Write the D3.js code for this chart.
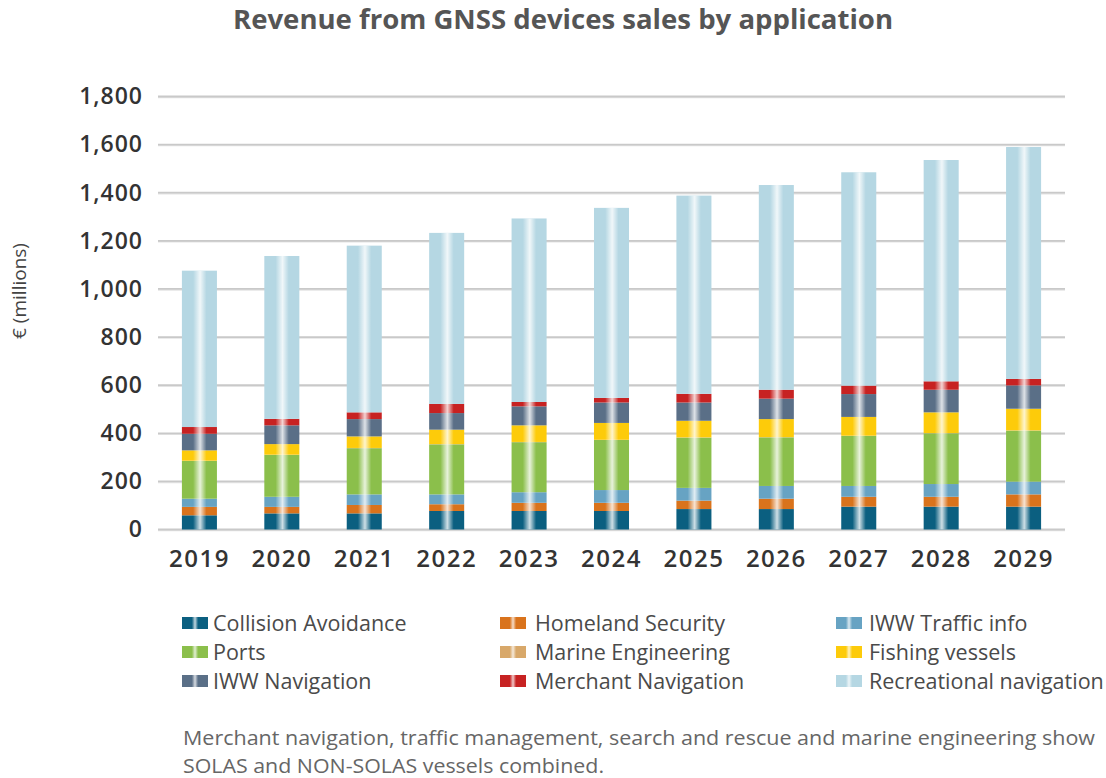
<!DOCTYPE html>
<html>
<head>
<meta charset="utf-8">
<script src="https://cdn.jsdelivr.net/npm/d3@7/dist/d3.min.js"></script>
<style>
  html, body { margin: 0; padding: 0; background: #fff; }
  svg { display: block; font-family: "Open Sans", "Noto Sans", sans-serif; }
</style>
</head>
<body>
<svg id="chart" width="1106" height="778"></svg>
<script>
// ── data (€ millions) ──
const years = ["2019", "2020", "2021", "2022", "2023", "2024", "2025", "2026", "2027", "2028", "2029"];

const collisionAvoidance = [59, 67, 67, 77, 77, 77, 85, 85, 95, 95, 95];
const homelandSecurity   = [35, 27, 35, 28, 34, 34, 35, 43, 41, 41, 51];
const iwwTrafficInfo     = [34, 42, 44, 41, 44, 53, 53, 53, 45, 53, 53];
const ports              = [157, 174, 192, 208, 208, 208, 209, 202, 208, 211, 212];
const marineEngineering  = [1, 1, 1, 1, 1, 1, 1, 1, 1, 1, 1];
const fishingVessels     = [43, 44, 48, 60, 69, 70, 69, 75, 78, 86, 90];
const iwwNavigation      = [69, 78, 72, 69, 79, 85, 76, 85, 95, 94, 97];
const merchantNavigation = [28, 27, 28, 38, 18, 19, 36, 37, 35, 35, 27];
const recreationalNav    = [650, 677, 693, 711, 763, 790, 824, 851, 887, 920, 964];

const seriesNames = ["Collision Avoidance", "Homeland Security", "IWW Traffic info",
                     "Ports", "Marine Engineering", "Fishing vessels",
                     "IWW Navigation", "Merchant Navigation", "Recreational navigation"];
const seriesValues = [collisionAvoidance, homelandSecurity, iwwTrafficInfo,
                      ports, marineEngineering, fishingVessels,
                      iwwNavigation, merchantNavigation, recreationalNav];
const seriesColors = ["#0b5f80", "#d9731c", "#67a3c3", "#8bbf4b", "#d8a86a",
                      "#fdcb0a", "#5a6f87", "#c72222", "#b5d7e3"];

const yTicks = [0, 200, 400, 600, 800, 1000, 1200, 1400, 1600, 1800];

// ── layout ──
const svg = d3.select("#chart");
const X0 = 158, X1 = 1065;
const Y0 = 529.5, Y1 = 96.5;

const x = d3.scaleBand().domain(years).range([X0, X1]).paddingInner(0.575).paddingOuter(0.29);
const y = d3.scaleLinear().domain([0, 1800]).range([Y0, Y1]);

// sheen gradient used on bars + legend swatches
const defs = svg.append("defs");
const sheen = defs.append("linearGradient").attr("id", "sheen")
    .attr("x1", "0%").attr("x2", "100%").attr("y1", "0%").attr("y2", "0%");
[[0, 0], [0.32, 0], [0.52, 0.8], [0.7, 0], [1, 0]].forEach(([o, a]) => {
    sheen.append("stop").attr("offset", o).attr("stop-color", "#fff").attr("stop-opacity", a);
});
const sw = defs.append("linearGradient").attr("id", "swsheen")
    .attr("x1", "0%").attr("x2", "100%").attr("y1", "0%").attr("y2", "0%");
[[0, 0], [0.38, 0], [0.5, 0.75], [0.62, 0], [1, 0]].forEach(([o, a]) => {
    sw.append("stop").attr("offset", o).attr("stop-color", "#fff").attr("stop-opacity", a);
});

// Title (condensed bold look)
svg.append("text").attr("x", 563).attr("y", 29)
    .attr("text-anchor", "middle").attr("fill", "#555")
    .attr("font-size", "26px").attr("font-weight", 700)
    .attr("textLength", 660).attr("lengthAdjust", "spacingAndGlyphs")
    .text("Revenue from GNSS devices sales by application");

// Gridlines
const grid = svg.append("g");
yTicks.forEach(t => {
    grid.append("line").attr("x1", X0).attr("x2", X1)
        .attr("y1", y(t) + 1).attr("y2", y(t) + 1)
        .attr("stroke", "#e4e4e4").attr("stroke-width", 1.5);
    grid.append("line").attr("x1", X0).attr("x2", X1)
        .attr("y1", y(t)).attr("y2", y(t))
        .attr("stroke", "#c9c9c9").attr("stroke-width", 1.8);
});

// Y axis labels
const yAx = svg.append("g").attr("transform", `translate(${X0},0)`)
    .call(d3.axisLeft(y).tickValues(yTicks).tickFormat(d3.format(",")).tickSize(0).tickPadding(15));
yAx.select(".domain").remove();
yAx.selectAll("text").attr("fill", "#333").attr("font-size", "23px").attr("font-weight", 600)
    .attr("letter-spacing", "1px")
    .attr("font-family", "'Open Sans', sans-serif");

svg.append("text")
    .attr("transform", `translate(26, 291) rotate(-90)`)
    .attr("text-anchor", "middle").attr("fill", "#444").attr("font-size", "19px")
    .text("€ (millions)");

// Stacked bars
const table = years.map((yr, i) => {
    const row = { year: yr };
    seriesNames.forEach((s, si) => row[s] = seriesValues[si][i]);
    return row;
});
const stack = d3.stack().keys(seriesNames)(table);

const bars = svg.append("g");
stack.forEach((layer, li) => {
    bars.append("g").attr("fill", seriesColors[li])
        .selectAll("rect").data(layer).join("rect")
        .attr("x", d => x(d.data.year))
        .attr("y", d => y(d[1]))
        .attr("width", x.bandwidth())
        .attr("height", d => Math.max(0, y(d[0]) - y(d[1])));
});
// sheen overlay
bars.append("g").selectAll("rect").data(years).join("rect")
    .attr("x", d => x(d))
    .attr("y", (d, i) => y(stack[stack.length - 1][i][1]))
    .attr("width", x.bandwidth())
    .attr("height", (d, i) => Y0 - y(stack[stack.length - 1][i][1]))
    .attr("fill", "url(#sheen)");

// X labels
const xAx = svg.append("g").attr("transform", `translate(0,${Y0})`)
    .call(d3.axisBottom(x).tickSize(0).tickPadding(20));
xAx.select(".domain").remove();
xAx.selectAll("text").attr("fill", "#333").attr("font-size", "24px").attr("font-weight", 600)
    .attr("letter-spacing", "1.5px")
    .attr("font-family", "'Open Sans', sans-serif");

// Legend: 3 columns x 3 rows
const legX = [182, 500, 836];
const legTX = [213, 535, 869];
const legY = [623, 652, 681];
const legend = svg.append("g");
seriesNames.forEach((s, i) => {
    const col = i % 3, row = Math.floor(i / 3);
    const lx = legX[col], ly = legY[row];
    legend.append("rect").attr("x", lx).attr("y", ly - 6)
        .attr("width", 26).attr("height", 12).attr("fill", seriesColors[i]);
    legend.append("rect").attr("x", lx).attr("y", ly - 6)
        .attr("width", 26).attr("height", 12).attr("fill", "url(#swsheen)");
    legend.append("text").attr("x", legTX[col]).attr("y", ly + 8)
        .attr("fill", "#4a4a4a").attr("font-size", "21.5px")
        .text(s);
});

// Footnote
const note = svg.append("text").attr("fill", "#666").attr("font-size", "20px");
note.append("tspan").attr("x", 183).attr("y", 745)
    .attr("textLength", 912).attr("lengthAdjust", "spacingAndGlyphs")
    .text("Merchant navigation, traffic management, search and rescue and marine engineering show");
note.append("tspan").attr("x", 183).attr("y", 773)
    .attr("textLength", 421).attr("lengthAdjust", "spacingAndGlyphs")
    .text("SOLAS and NON-SOLAS vessels combined.");
</script>
</body>
</html>
